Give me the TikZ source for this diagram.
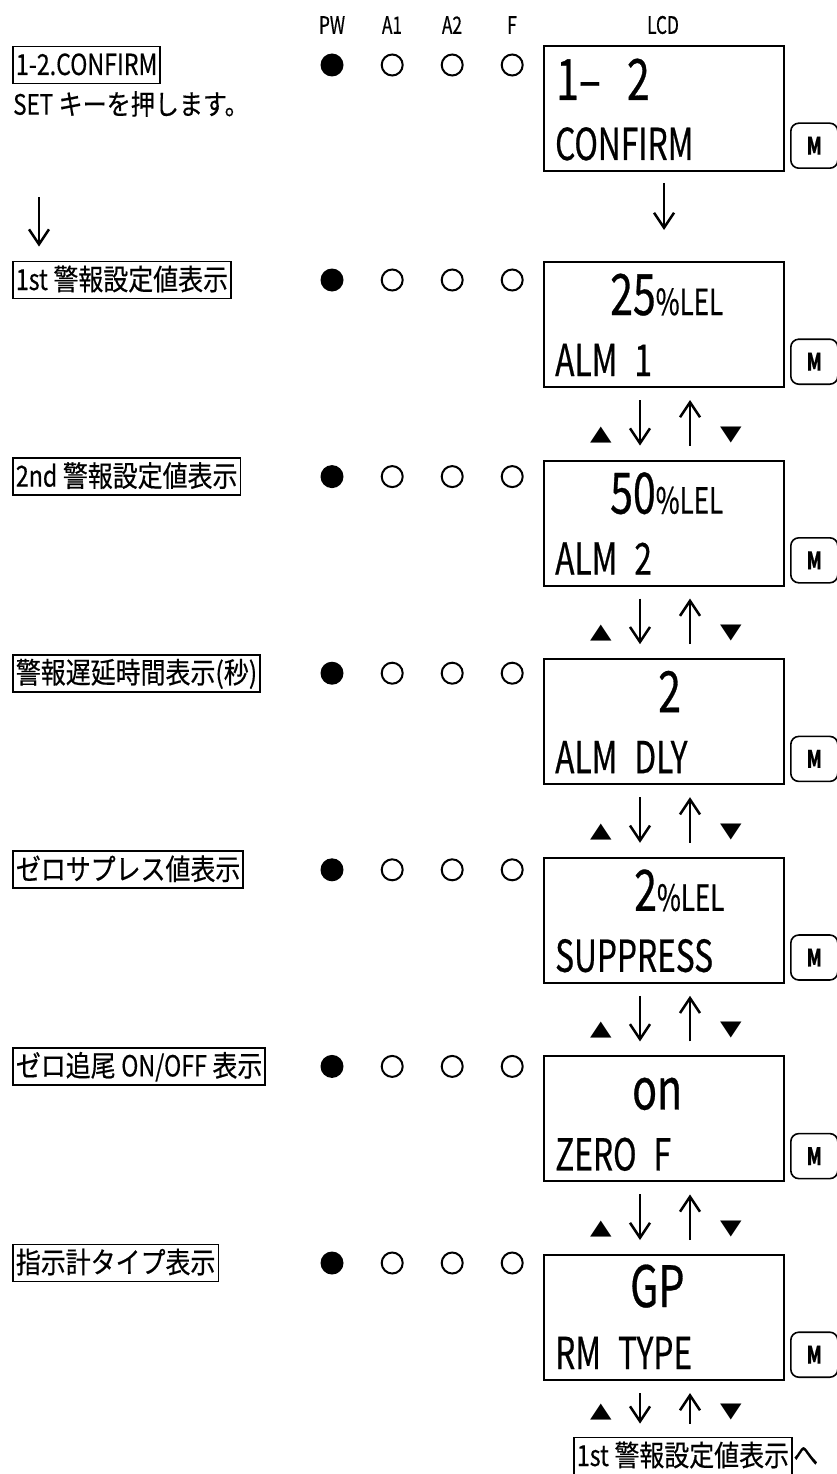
\documentclass[tikz,border=0pt]{standalone}
\usepackage{fontspec}
\setmainfont{Noto Sans CJK JP}
\newfontfamily\lcdfamily[FakeStretch=0.72, FakeBold=0.5]{Noto Sans CJK JP}
\newfontfamily\lblfamily[FakeStretch=0.86, FakeBold=0.4]{Noto Sans CJK JP}
\newfontfamily\latfamily[FakeStretch=0.8, FakeBold=0.4]{Noto Sans CJK JP}
\newfontfamily\symfamily{DejaVu Sans}
\usepackage{tikz}
\usetikzlibrary{arrows.meta, positioning}

\newcommand{\lcdbig}{\lcdfamily\fontsize{57}{57}\selectfont}
\newcommand{\lcdunit}{\lcdfamily\fontsize{36}{36}\selectfont}
\newcommand{\lcdline}{\lcdfamily\fontsize{44}{44}\selectfont}
\newcommand{\lcdsp}{\hspace*{17pt}}
\newcommand{\lat}[1]{{\latfamily #1}}
\newcommand{\tri}[1]{\scalebox{1}[0.75]{#1}}

\begin{document}
\begin{tikzpicture}[
    x=1pt, y=-1pt,
    node distance=71.6pt,
    lcd/.style={rectangle, draw, line width=2pt, minimum width=240pt, minimum height=125pt, inner sep=0pt},
    mkey/.style={rectangle, draw, rounded corners=8pt, line width=1.6pt, minimum width=47pt, minimum height=45pt, inner sep=0pt, font=\lcdfamily\bfseries\fontsize{24}{24}\selectfont},
    namebox/.style={rectangle, draw, line width=1.8pt, inner xsep=3pt, inner ysep=4.5pt, text height=24pt, text depth=4pt, anchor=west, font=\lblfamily\fontsize{29}{29}\selectfont},
    remark/.style={inner sep=0pt, anchor=west, font=\lblfamily\fontsize{28}{28}\selectfont},
    lamphead/.style={inner sep=0pt, font=\lcdfamily\fontsize{24}{24}\selectfont},
    lampon/.style={circle, fill, minimum size=23pt, inner sep=0pt},
    lampoff/.style={circle, draw, line width=2pt, minimum size=21pt, inner sep=0pt},
    lcdvalue/.style={inner sep=0pt, anchor=base west, font=\lcdbig},
    lcdcaption/.style={inner sep=0pt, anchor=base west, font=\lcdline},
    cursor/.style={inner sep=0pt, font=\symfamily\fontsize{28}{28}\selectfont},
    arrow/.style={-{Straight Barb[length=15pt, width=20pt]}, line width=2.5pt}
]
\useasboundingbox (0,0) rectangle (837,1474);

% Header
\node[lamphead] (hpw) at (332,25) {PW};
\node[lamphead] (ha1) at (392,25) {A1};
\node[lamphead] (ha2) at (452,25) {A2};
\node[lamphead] (hf) at (512,25) {F};
\node[lamphead] (hlcd) at (663,25) {LCD};

% 1-2 CONFIRM
\node[namebox] (name1) at (12,65) {\lat{1-2.CONFIRM}};
\node[remark] (set) at (13,104) {\lat{SET} キーを押します。};
\node[lampon] (pw1) at (332,65) {};
\node[lampoff, right=37pt of pw1] (alma1) {};
\node[lampoff, right=37pt of alma1] (almb1) {};
\node[lampoff, right=37pt of almb1] (flt1) {};
\node[lcd, anchor=north west] (lcd1) at (543,45) {};
\node[lcdvalue] (val1) at ([xshift=13pt, yshift=-55pt]lcd1.north west) {1–\hspace*{26pt}2};
\node[lcdcaption] (cap1) at ([xshift=12pt, yshift=12pt]lcd1.south west) {CONFIRM};
\node[mkey, anchor=south west] (key1) at ([xshift=5pt, yshift=3pt]lcd1.south east) {M};

% 1st alarm
\node[namebox] (name2) at (12,280) {\lat{1st} 警報設定値表示};
\node[lampon] (pw2) at (332,280) {};
\node[lampoff, right=37pt of pw2] (alma2) {};
\node[lampoff, right=37pt of alma2] (almb2) {};
\node[lampoff, right=37pt of almb2] (flt2) {};
\node[lcd, below=89pt of lcd1] (lcd2) {};
\node[lcdvalue] (val2) at ([xshift=67pt, yshift=-54pt]lcd2.north west) {25{\lcdunit\%LEL}};
\node[lcdcaption] (cap2) at ([xshift=12pt, yshift=12pt]lcd2.south west) {ALM\lcdsp 1};
\node[mkey, anchor=south west] (key2) at ([xshift=5pt, yshift=3pt]lcd2.south east) {M};

% 2nd alarm
\node[namebox] (name3) at (12,476.6) {\lat{2nd} 警報設定値表示};
\node[lampon] (pw3) at (332,476.6) {};
\node[lampoff, right=37pt of pw3] (alma3) {};
\node[lampoff, right=37pt of alma3] (almb3) {};
\node[lampoff, right=37pt of almb3] (flt3) {};
\node[lcd, below=of lcd2] (lcd3) {};
\node[lcdvalue] (val3) at ([xshift=67pt, yshift=-54pt]lcd3.north west) {50{\lcdunit\%LEL}};
\node[lcdcaption] (cap3) at ([xshift=12pt, yshift=12pt]lcd3.south west) {ALM\lcdsp 2};
\node[mkey, anchor=south west] (key3) at ([xshift=5pt, yshift=3pt]lcd3.south east) {M};

% Alarm delay
\node[namebox] (name4) at (12,673.2) {警報遅延時間表示(秒)};
\node[lampon] (pw4) at (332,673.2) {};
\node[lampoff, right=37pt of pw4] (alma4) {};
\node[lampoff, right=37pt of alma4] (almb4) {};
\node[lampoff, right=37pt of almb4] (flt4) {};
\node[lcd, below=of lcd3] (lcd4) {};
\node[lcdvalue] (val4) at ([xshift=115pt, yshift=-54pt]lcd4.north west) {2};
\node[lcdcaption] (cap4) at ([xshift=12pt, yshift=12pt]lcd4.south west) {ALM\lcdsp DLY};
\node[mkey, anchor=south west] (key4) at ([xshift=5pt, yshift=3pt]lcd4.south east) {M};

% Zero suppress
\node[namebox] (name5) at (12,869.8) {ゼロサプレス値表示};
\node[lampon] (pw5) at (332,869.8) {};
\node[lampoff, right=37pt of pw5] (alma5) {};
\node[lampoff, right=37pt of alma5] (almb5) {};
\node[lampoff, right=37pt of almb5] (flt5) {};
\node[lcd, below=of lcd4] (lcd5) {};
\node[lcdvalue] (val5) at ([xshift=91pt, yshift=-54pt]lcd5.north west) {2{\lcdunit\%LEL}};
\node[lcdcaption] (cap5) at ([xshift=12pt, yshift=12pt]lcd5.south west) {SUPPRESS};
\node[mkey, anchor=south west] (key5) at ([xshift=5pt, yshift=3pt]lcd5.south east) {M};

% Zero follow
\node[namebox] (name6) at (12,1066.4) {ゼロ追尾 \lat{ON/OFF} 表示};
\node[lampon] (pw6) at (332,1066.4) {};
\node[lampoff, right=37pt of pw6] (alma6) {};
\node[lampoff, right=37pt of alma6] (almb6) {};
\node[lampoff, right=37pt of almb6] (flt6) {};
\node[lcd, below=of lcd5] (lcd6) {};
\node[lcdvalue] (val6) at ([xshift=89pt, yshift=-54pt]lcd6.north west) {on};
\node[lcdcaption] (cap6) at ([xshift=12pt, yshift=12pt]lcd6.south west) {ZERO\lcdsp F};
\node[mkey, anchor=south west] (key6) at ([xshift=5pt, yshift=3pt]lcd6.south east) {M};

% Meter type
\node[namebox] (name7) at (12,1263) {指示計タイプ表示};
\node[lampon] (pw7) at (332,1263) {};
\node[lampoff, right=37pt of pw7] (alma7) {};
\node[lampoff, right=37pt of alma7] (almb7) {};
\node[lampoff, right=37pt of almb7] (flt7) {};
\node[lcd, below=of lcd6] (lcd7) {};
\node[lcdvalue] (val7) at ([xshift=87pt, yshift=-53pt]lcd7.north west) {GP};
\node[lcdcaption] (cap7) at ([xshift=12pt, yshift=12pt]lcd7.south west) {RM\lcdsp TYPE};
\node[mkey, anchor=south west] (key7) at ([xshift=5pt, yshift=3pt]lcd7.south east) {M};

% Back to the start
\node[namebox] (back) at (573,1456) {\lat{1st} 警報設定値表示};
\node[remark, right=0pt of back, font=\lblfamily\fontsize{29}{29}\selectfont] (he) {へ};
\coordinate (endrow) at (lcd7.south |- back.north);

% Arrows
\coordinate (leftcol) at (39,0);
\draw[arrow, shorten <=80pt, shorten >=14pt] (set.south -| leftcol) -- (name2.north -| leftcol);
\draw[arrow, shorten <=11pt, shorten >=31pt] (lcd1) -- (lcd2);

\draw[arrow] ([xshift=-24pt, yshift=-12pt]lcd2.south) -- ([xshift=-24pt, yshift=14pt]lcd3.north);
\draw[arrow] ([xshift=26pt, yshift=14pt]lcd3.north) -- ([xshift=26pt, yshift=-12pt]lcd2.south);
\node[cursor] (up2) at ([xshift=-63pt, yshift=25pt]lcd3.north) {\tri{▲}};
\node[cursor] (dn2) at ([xshift=67pt, yshift=25pt]lcd3.north) {\tri{▼}};

\draw[arrow] ([xshift=-24pt, yshift=-12pt]lcd3.south) -- ([xshift=-24pt, yshift=14pt]lcd4.north);
\draw[arrow] ([xshift=26pt, yshift=14pt]lcd4.north) -- ([xshift=26pt, yshift=-12pt]lcd3.south);
\node[cursor] (up3) at ([xshift=-63pt, yshift=25pt]lcd4.north) {\tri{▲}};
\node[cursor] (dn3) at ([xshift=67pt, yshift=25pt]lcd4.north) {\tri{▼}};

\draw[arrow] ([xshift=-24pt, yshift=-12pt]lcd4.south) -- ([xshift=-24pt, yshift=14pt]lcd5.north);
\draw[arrow] ([xshift=26pt, yshift=14pt]lcd5.north) -- ([xshift=26pt, yshift=-12pt]lcd4.south);
\node[cursor] (up4) at ([xshift=-63pt, yshift=25pt]lcd5.north) {\tri{▲}};
\node[cursor] (dn4) at ([xshift=67pt, yshift=25pt]lcd5.north) {\tri{▼}};

\draw[arrow] ([xshift=-24pt, yshift=-12pt]lcd5.south) -- ([xshift=-24pt, yshift=14pt]lcd6.north);
\draw[arrow] ([xshift=26pt, yshift=14pt]lcd6.north) -- ([xshift=26pt, yshift=-12pt]lcd5.south);
\node[cursor] (up5) at ([xshift=-63pt, yshift=25pt]lcd6.north) {\tri{▲}};
\node[cursor] (dn5) at ([xshift=67pt, yshift=25pt]lcd6.north) {\tri{▼}};

\draw[arrow] ([xshift=-24pt, yshift=-12pt]lcd6.south) -- ([xshift=-24pt, yshift=14pt]lcd7.north);
\draw[arrow] ([xshift=26pt, yshift=14pt]lcd7.north) -- ([xshift=26pt, yshift=-12pt]lcd6.south);
\node[cursor] (up6) at ([xshift=-63pt, yshift=25pt]lcd7.north) {\tri{▲}};
\node[cursor] (dn6) at ([xshift=67pt, yshift=25pt]lcd7.north) {\tri{▼}};

\draw[arrow] ([xshift=-24pt, yshift=-12pt]lcd7.south) -- ([xshift=-24pt, yshift=13pt]endrow);
\draw[arrow] ([xshift=26pt, yshift=13pt]endrow) -- ([xshift=26pt, yshift=-12pt]lcd7.south);
\node[cursor] (up7) at ([xshift=-63pt, yshift=25pt]endrow) {\tri{▲}};
\node[cursor] (dn7) at ([xshift=67pt, yshift=25pt]endrow) {\tri{▼}};

\end{tikzpicture}
\end{document}
